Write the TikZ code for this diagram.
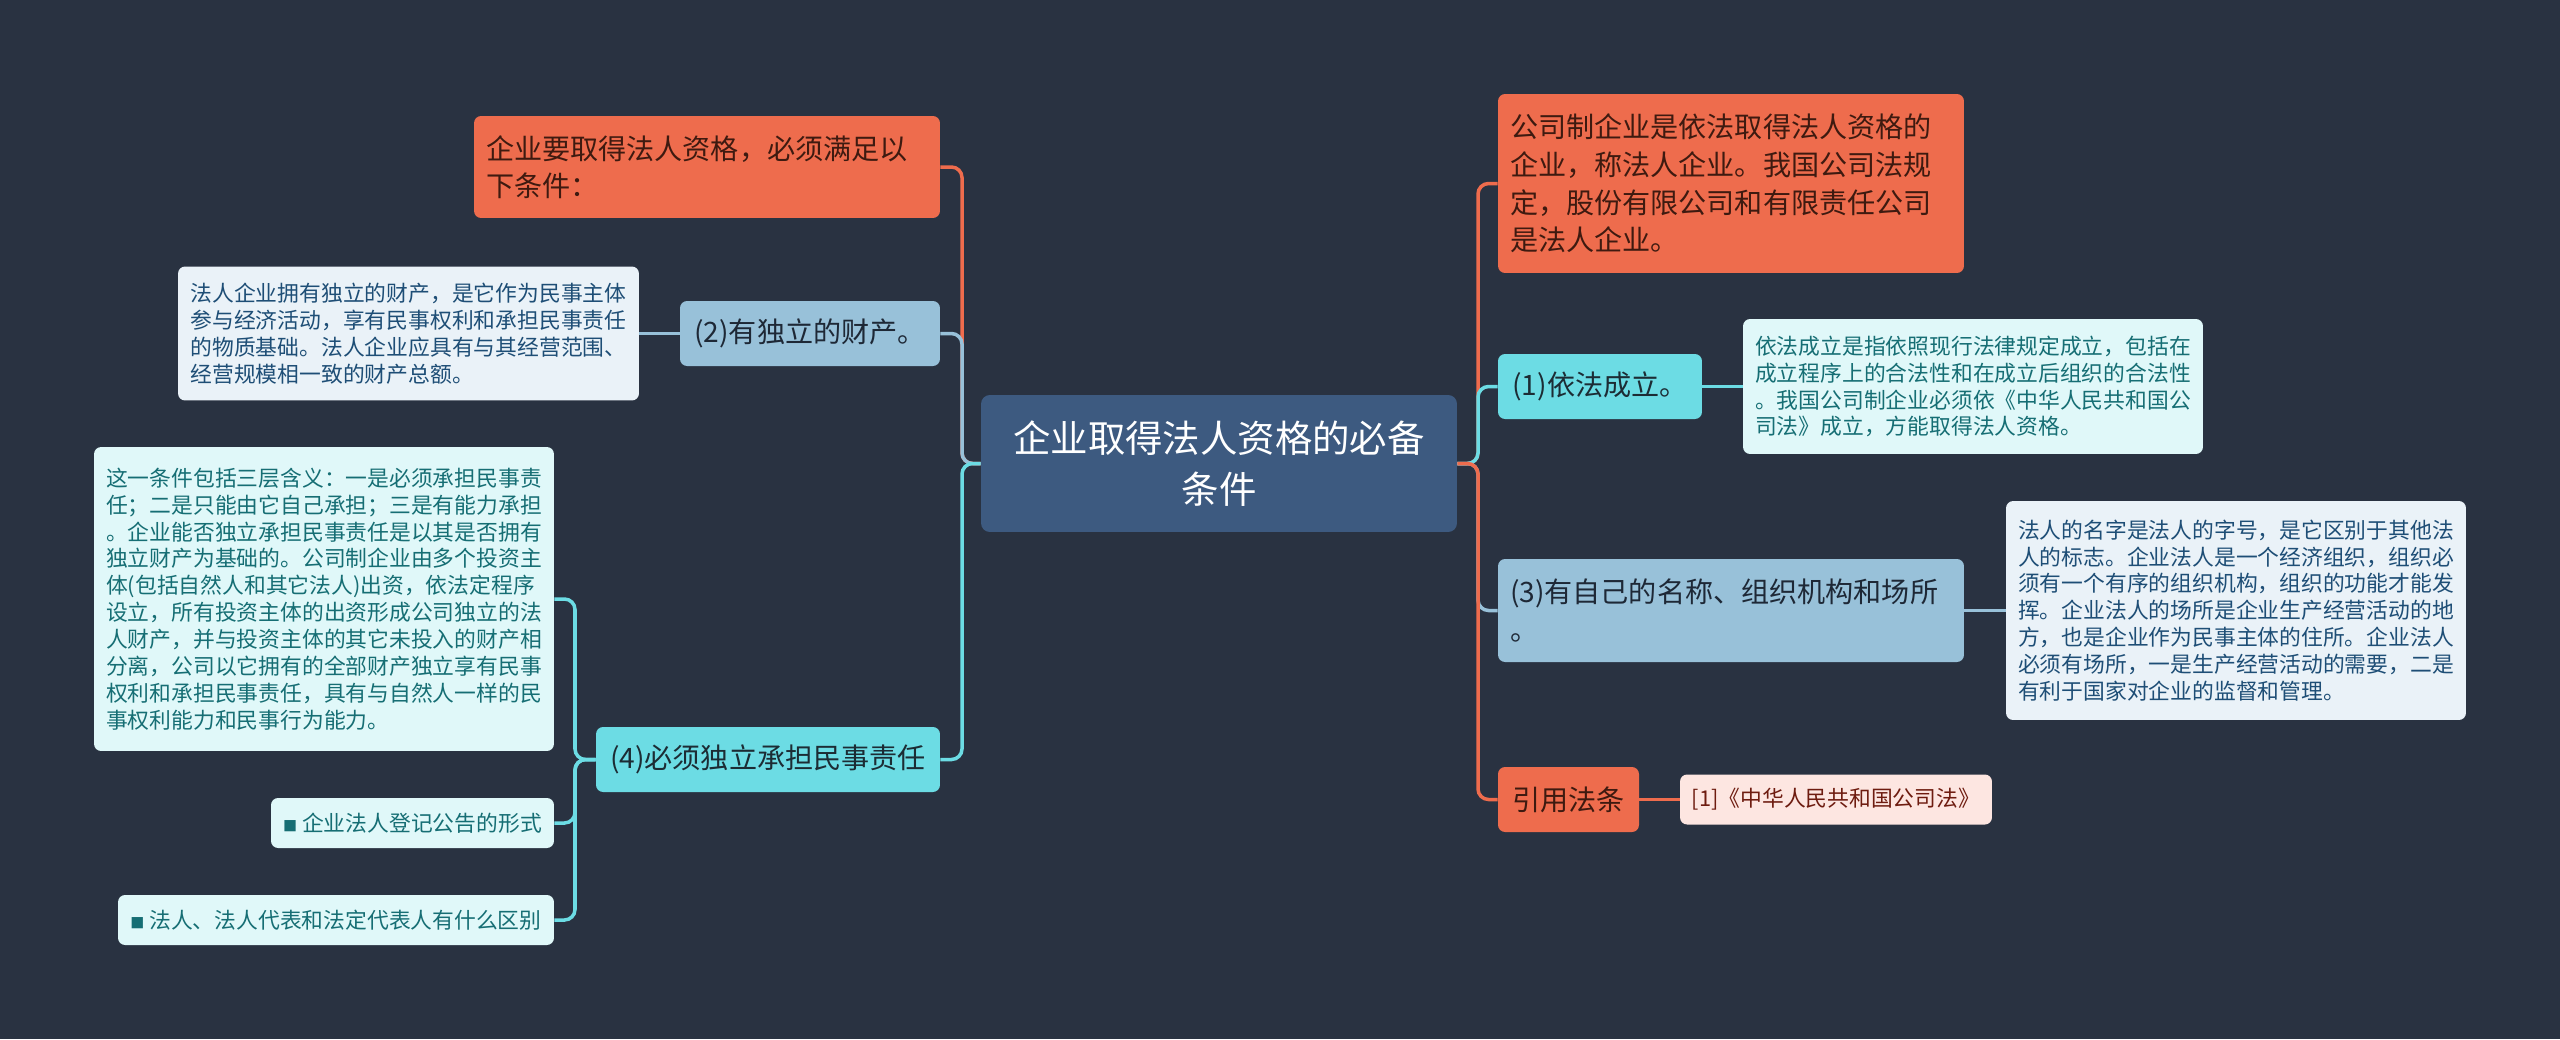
\documentclass[tikz,border=0pt]{standalone}
\usepackage{fontspec}
\setmainfont{Noto Sans CJK SC}

\definecolor{bgcol}{HTML}{293241}
\definecolor{rootcol}{HTML}{3D5A80}
\definecolor{orangecol}{HTML}{EE6C4D}
\definecolor{bluecol}{HTML}{98C1D9}
\definecolor{cyancol}{HTML}{6CDCE4}
\definecolor{orangetext}{RGB}{62,26,16}
\definecolor{bluetext}{RGB}{30,40,54}
\definecolor{cyantext}{RGB}{28,44,52}
\definecolor{bluenotecol}{HTML}{EAF2F8}
\definecolor{bluenotetext}{RGB}{30,78,118}
\definecolor{cyannotecol}{HTML}{E0F8F9}
\definecolor{cyannotetext}{RGB}{22,110,116}
\definecolor{orangenotecol}{HTML}{FDE6E1}
\definecolor{orangenotetext}{RGB}{110,28,16}

\begin{document}
\begin{tikzpicture}[
    x=0.02cm, y=-0.02cm,
    rootbox/.style={rectangle, rounded corners=5pt, fill=rootcol, text=white, align=center, minimum width=9.52cm, minimum height=2.74cm, font=\fontsize{21.3}{29}\selectfont},
    mainbox/.style={rectangle, rounded corners=4pt, inner xsep=0.24cm, inner ysep=0pt, align=left, font=\fontsize{16}{21.4}\selectfont},
    orangebox/.style={mainbox, fill=orangecol, text=orangetext},
    bluebox/.style={mainbox, fill=bluecol, text=bluetext},
    cyanbox/.style={mainbox, fill=cyancol, text=cyantext},
    notebox/.style={rectangle, rounded corners=4pt, inner sep=0pt, align=left, font=\fontsize{12.4}{15.3}\selectfont},
    bluenote/.style={notebox, fill=bluenotecol, text=bluenotetext},
    cyannote/.style={notebox, fill=cyannotecol, text=cyannotetext},
    orangenote/.style={notebox, fill=orangenotecol, text=orangenotetext},
    link/.style={line width=2pt, rounded corners=6pt}
]
    % Background
    \fill[bgcol] (0,0) rectangle (2560,1039);

    % Root
    \node[rootbox] (root) at (1219,463.5) {企业取得法人资格的必备\\条件};

    % Left side
    \node[orangebox, text width=8.84cm, minimum height=2.04cm] (req) at (707,167) {
        企业要取得法人资格，必须满足以\\下条件：
    };
    \node[bluebox, minimum width=5.2cm, minimum height=1.3cm] (prop) at (810,333.5) {(2)有独立的财产。};
    \node[bluenote, minimum width=9.22cm, minimum height=2.68cm] (propd) at (408.5,333.5) {
        法人企业拥有独立的财产，是它作为民事主体\\
        参与经济活动，享有民事权利和承担民事责任\\
        的物质基础。法人企业应具有与其经营范围、\\
        经营规模相一致的财产总额。
    };
    \node[cyanbox, minimum width=6.88cm, minimum height=1.3cm] (liab) at (768,759.5) {(4)必须独立承担民事责任};
    \node[cyannote, minimum width=9.2cm, minimum height=6.08cm] (liabd) at (324,599) {
        这一条件包括三层含义：一是必须承担民事责\\
        任；二是只能由它自己承担；三是有能力承担\\
        。企业能否独立承担民事责任是以其是否拥有\\
        独立财产为基础的。公司制企业由多个投资主\\
        体(包括自然人和其它法人)出资，依法定程序\\
        设立，所有投资主体的出资形成公司独立的法\\
        人财产，并与投资主体的其它未投入的财产相\\
        分离，公司以它拥有的全部财产独立享有民事\\
        权利和承担民事责任，具有与自然人一样的民\\
        事权利能力和民事行为能力。
    };
    \node[cyannote, minimum width=5.66cm, minimum height=1cm] (linka) at (412.5,823) {{\fontsize{8}{8}\selectfont ■}\ 企业法人登记公告的形式};
    \node[cyannote, minimum width=8.72cm, minimum height=1cm] (linkb) at (336,920) {{\fontsize{8}{8}\selectfont ■}\ 法人、法人代表和法定代表人有什么区别};

    % Right side
    \node[orangebox, text width=8.84cm, minimum height=3.58cm] (corp) at (1731,183.5) {
        公司制企业是依法取得法人资格的\\
        企业，称法人企业。我国公司法规\\
        定，股份有限公司和有限责任公司\\
        是法人企业。
    };
    \node[cyanbox, minimum width=4.08cm, minimum height=1.3cm] (est) at (1600,386.5) {(1)依法成立。};
    \node[cyannote, minimum width=9.2cm, minimum height=2.7cm] (estd) at (1973,386.5) {
        依法成立是指依照现行法律规定成立，包括在\\
        成立程序上的合法性和在成立后组织的合法性\\
        。我国公司制企业必须依《中华人民共和国公\\
        司法》成立，方能取得法人资格。
    };
    \node[bluebox, text width=8.84cm, minimum height=2.06cm] (name) at (1731,610.5) {
        (3)有自己的名称、组织机构和场所\\。
    };
    \node[bluenote, minimum width=9.2cm, minimum height=4.38cm] (named) at (2236,610.5) {
        法人的名字是法人的字号，是它区别于其他法\\
        人的标志。企业法人是一个经济组织，组织必\\
        须有一个有序的组织机构，组织的功能才能发\\
        挥。企业法人的场所是企业生产经营活动的地\\
        方，也是企业作为民事主体的住所。企业法人\\
        必须有场所，一是生产经营活动的需要，二是\\
        有利于国家对企业的监督和管理。
    };
    \node[orangebox, minimum width=2.82cm, minimum height=1.3cm] (cite) at (1568.5,799.5) {引用法条};
    \node[orangenote, minimum width=6.24cm, minimum height=1cm] (cited) at (1836,799.5) {[1]《中华人民共和国公司法》};

    % Trunks
    \coordinate (ltrunk) at (962,463.5);
    \coordinate (rtrunk) at (1478,463.5);
    \coordinate (ntrunk) at (575,759.5);

    % Connectors
    \draw[link, orangecol] (root.west) -- (root.west -| ltrunk) |- (req.east);
    \draw[link, bluecol] (root.west) -- (root.west -| ltrunk) |- (prop.east);
    \draw[link, cyancol] (root.west) -- (root.west -| ltrunk) |- (liab.east);
    \draw[link, orangecol] (root.east) -- (root.east -| rtrunk) |- (corp.west);
    \draw[link, cyancol] (root.east) -- (root.east -| rtrunk) |- (est.west);
    \draw[link, bluecol] (root.east) -- (root.east -| rtrunk) |- (name.west);
    \draw[link, orangecol] (root.east) -- (root.east -| rtrunk) |- (cite.west);
    \draw[link, bluecol] (prop.west) -- (propd.east);
    \draw[link, cyancol] (liab.west) -- (liab.west -| ntrunk) |- (liabd.east);
    \draw[link, cyancol] (liab.west) -- (liab.west -| ntrunk) |- (linka.east);
    \draw[link, cyancol] (liab.west) -- (liab.west -| ntrunk) |- (linkb.east);
    \draw[link, cyancol] (est.east) -- (estd.west);
    \draw[link, bluecol] (name.east) -- (named.west);
    \draw[link, orangecol] (cite.east) -- (cited.west);
\end{tikzpicture}
\end{document}
